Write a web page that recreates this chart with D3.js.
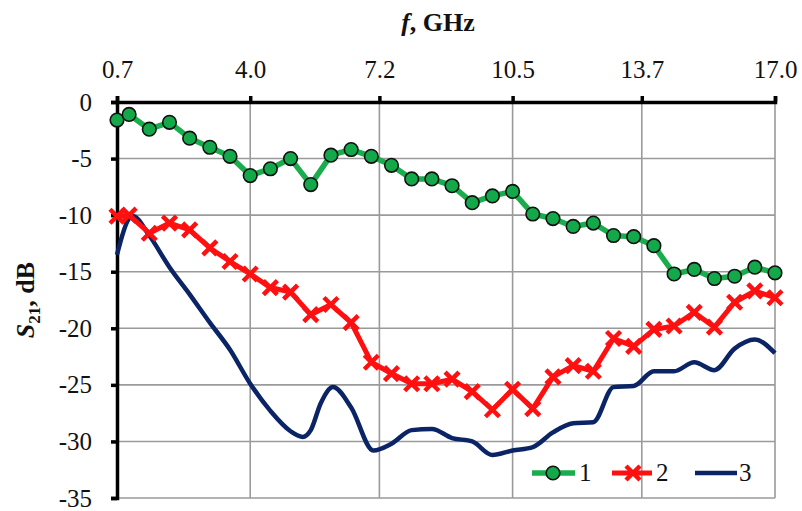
<!DOCTYPE html>
<html>
<head>
<meta charset="utf-8">
<script src="https://d3js.org/d3.v7.min.js"></script>
<style>
  body { margin: 0; background: #fff; }
  text { font-family: "Liberation Serif", "Times New Roman", serif; fill: #111; }
</style>
</head>
<body>
<script>
// frequencies, GHz (curves 1 and 2)
var freq = [0.7, 1.0, 1.5, 2.0, 2.5, 3.0, 3.5, 4.0, 4.5, 5.0, 5.5, 6.0, 6.5, 7.0, 7.5, 8.0, 8.5,
            9.0, 9.5, 10.0, 10.5, 11.0, 11.5, 12.0, 12.5, 13.0, 13.5, 14.0, 14.5, 15.0, 15.5, 16.0, 16.5, 17.0];

var s1 = [-1.6, -1.1, -2.4, -1.8, -3.2, -4.0, -4.8, -6.5, -5.9, -5.0, -7.3, -4.7, -4.2, -4.8, -5.6, -6.8, -6.8,
          -7.4, -8.9, -8.3, -7.9, -9.9, -10.3, -11.0, -10.7, -11.8, -11.9, -12.7, -15.2, -14.8, -15.6, -15.4, -14.6, -15.1];

var s2 = [-10.1, -10.0, -11.6, -10.7, -11.3, -12.9, -14.1, -15.2, -16.4, -16.8, -18.8, -17.9, -19.5, -23.0, -24.0, -24.9, -24.9,
          -24.5, -25.6, -27.2, -25.4, -27.1, -24.3, -23.3, -23.8, -20.9, -21.6, -20.1, -19.8, -18.6, -19.9, -17.7, -16.7, -17.3];

// curve 3 (smooth line, read at its turning points)
var freq3 = [0.7, 1.0, 1.1, 1.5, 2.0, 2.5, 3.0, 3.5, 4.0, 4.5, 5.0, 5.3, 5.5, 5.75, 6.05, 6.5, 7.05, 7.5, 8.0, 8.5,
             9.0, 9.5, 10.0, 10.5, 11.0, 11.5, 12.0, 12.5, 13.0, 13.5, 14.0, 14.5, 15.0, 15.5, 16.0, 16.5, 17.0];
var s3 = [-13.5, -10.3, -10.1, -11.8, -14.6, -17.0, -19.5, -21.9, -24.9, -27.3, -29.1, -29.6, -29.0, -26.6, -25.2, -27.0, -30.8, -30.2, -29.0, -28.9,
          -29.7, -30.0, -31.2, -30.8, -30.5, -29.2, -28.4, -28.3, -25.2, -25.1, -23.8, -23.8, -23.0, -23.7, -21.8, -21.0, -22.2];

var xTicks = [0.7, 4.0, 7.2, 10.5, 13.7, 17.0];
var yTicks = [0, -5, -10, -15, -20, -25, -30, -35];
var legendNames = ["1", "2", "3"];

var W = 802, H = 511;
var m = {top: 102, right: 27, bottom: 13, left: 117};

var svg = d3.select("body").append("svg")
  .attr("width", W)
  .attr("height", H);

var x = d3.scaleLinear().domain([0.7, 17.0]).range([m.left, W - m.right]);
var y = d3.scaleLinear().domain([0, -35]).range([m.top, H - m.bottom]);

// grid
var grid = svg.append("g").attr("stroke", "#9a9a9a").attr("stroke-width", 1.6);
grid.selectAll(".gx").data(xTicks).enter().append("line")
  .attr("x1", d => x(d)).attr("x2", d => x(d))
  .attr("y1", y(0)).attr("y2", y(-35));
grid.selectAll(".gy").data(yTicks).enter().append("line")
  .attr("x1", x(0.7)).attr("x2", x(17))
  .attr("y1", d => y(d)).attr("y2", d => y(d));

// axes
var xAxis = svg.append("g")
  .attr("transform", "translate(0," + y(0) + ")")
  .call(d3.axisTop(x).tickValues(xTicks).tickSize(6).tickPadding(18).tickFormat(d3.format(".1f")));
var yAxis = svg.append("g")
  .attr("transform", "translate(" + x(0.7) + ",0)")
  .call(d3.axisLeft(y).tickValues(yTicks).tickSize(6).tickPadding(19).tickFormat(d => d === 0 ? "0" : "-" + Math.abs(d)));

[xAxis, yAxis].forEach(function(a) {
  a.attr("font-family", null);
  a.select(".domain").attr("stroke", "#000").attr("stroke-width", 3.5);
  a.selectAll(".tick line").attr("stroke", "#000").attr("stroke-width", 3.5);
  a.selectAll(".tick text")
    .style("font-family", "'Liberation Serif', serif")
    .style("font-size", "25px")
    .attr("fill", "#111");
});

// series
var line = function(xs, vals, curve) {
  return d3.line().x((d, i) => x(xs[i])).y(d => y(d)).curve(curve)(vals);
};

svg.append("path")
  .attr("d", line(freq3, s3, d3.curveMonotoneX))
  .attr("fill", "none").attr("stroke", "#0b2466").attr("stroke-width", 4.5)
  .attr("stroke-linejoin", "round");

svg.append("path")
  .attr("d", line(freq, s2, d3.curveLinear))
  .attr("fill", "none").attr("stroke", "#ff1010").attr("stroke-width", 5)
  .attr("stroke-linejoin", "round");

function cross(g, cx, cy) {
  var r = 7;
  g.append("path")
    .attr("d", "M" + (cx - r) + "," + (cy - r) + "L" + (cx + r) + "," + (cy + r) +
               "M" + (cx - r) + "," + (cy + r) + "L" + (cx + r) + "," + (cy - r))
    .attr("stroke", "#ff1010").attr("stroke-width", 4.5).attr("fill", "none");
}
var crosses = svg.append("g");
s2.forEach((v, i) => cross(crosses, x(freq[i]), y(v)));

svg.append("path")
  .attr("d", line(freq, s1, d3.curveLinear))
  .attr("fill", "none").attr("stroke", "#1aad4e").attr("stroke-width", 5.5)
  .attr("stroke-linejoin", "round");

svg.append("g").selectAll("circle").data(s1).enter().append("circle")
  .attr("cx", (d, i) => x(freq[i])).attr("cy", d => y(d))
  .attr("r", 6.8)
  .attr("fill", "#13a84a").attr("stroke", "#111").attr("stroke-width", 1.6);

// legend
var ly = 473;
var leg = svg.append("g");
leg.append("line").attr("x1", 532).attr("x2", 575).attr("y1", ly).attr("y2", ly)
  .attr("stroke", "#1aad4e").attr("stroke-width", 5.5);
leg.append("circle").attr("cx", 553).attr("cy", ly).attr("r", 6.8)
  .attr("fill", "#13a84a").attr("stroke", "#111").attr("stroke-width", 1.6);
leg.append("line").attr("x1", 612).attr("x2", 652).attr("y1", ly).attr("y2", ly)
  .attr("stroke", "#ff1010").attr("stroke-width", 5);
cross(leg, 633, ly);
leg.append("line").attr("x1", 695).attr("x2", 737).attr("y1", ly).attr("y2", ly)
  .attr("stroke", "#0b2466").attr("stroke-width", 4.5);
leg.selectAll("text").data(legendNames).enter().append("text")
  .attr("x", (d, i) => [579, 656, 739][i])
  .attr("y", ly + 8)
  .style("font-size", "25px")
  .text(d => d);

// axis titles
var xt = svg.append("text")
  .attr("x", 438).attr("y", 31)
  .attr("text-anchor", "middle")
  .style("font-size", "26px").style("font-weight", "bold");
xt.append("tspan").style("font-style", "italic").text("f");
xt.append("tspan").text(", GHz");

var yt = svg.append("text")
  .attr("transform", "translate(34,300) rotate(-90)")
  .attr("text-anchor", "middle")
  .style("font-size", "26px").style("font-weight", "bold");
yt.append("tspan").style("font-style", "italic").text("S");
yt.append("tspan").attr("dy", 6).style("font-size", "17px").text("21");
yt.append("tspan").attr("dy", -6).text(", dB");
</script>
</body>
</html>
